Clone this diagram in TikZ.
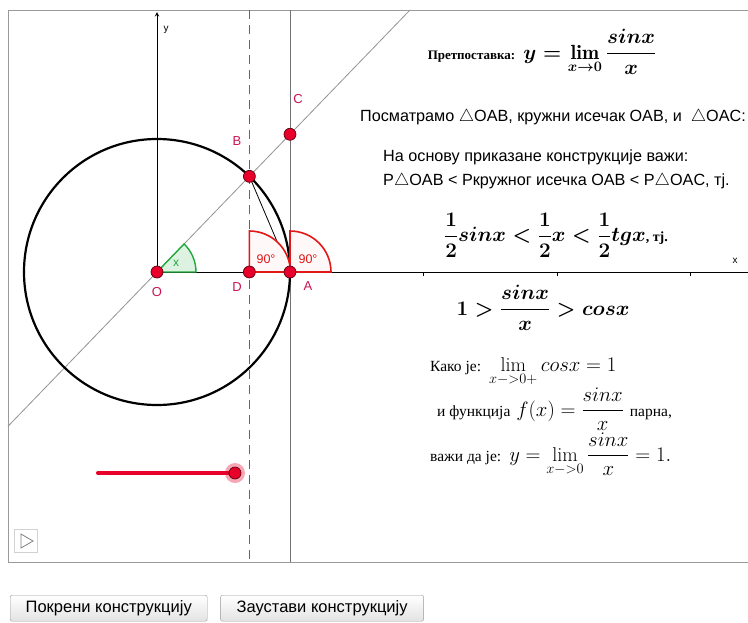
\documentclass[tikz,border=0pt]{standalone}
\usepackage{amsmath}
\usepackage{fontspec}
\newfontfamily\arialfont{Liberation Sans}
\newfontfamily\timesfont{Liberation Serif}
\usetikzlibrary{positioning,calc}
\definecolor{frame}{HTML}{9A9A9A}
\definecolor{ptred}{HTML}{E8002A}
\definecolor{ptedge}{HTML}{5A0010}
\definecolor{lblred}{HTML}{CC1450}
\definecolor{markred}{HTML}{E01818}
\definecolor{dashred}{RGB}{226,48,48}
\definecolor{angg}{HTML}{1FAA3A}

\begin{document}
\begin{tikzpicture}[x=1pt,y=-1pt,
    pt/.style={circle,draw=ptedge,fill=ptred,inner sep=0pt,minimum size=12pt,line width=0.7pt},
    ptlabel/.style={text=lblred,font=\arialfont\fontsize{13}{13}\selectfont,inner sep=0pt},
    rightmark/.style={draw=markred,line width=1.6pt,fill=markred!3},
    tracedash/.style={draw=dashred,line width=1.7pt},
    sanstext/.style={font=\arialfont\fontsize{16.2}{18}\selectfont,inner sep=0pt,anchor=west},
    mathtext/.style={font=\fontsize{19.5}{22}\selectfont,inner sep=0pt},
    plainmath/.style={font=\fontsize{20}{22}\selectfont,inner sep=0pt,anchor=base west},
    button/.style={draw=gray!80,rounded corners=2pt,top color=white,bottom color=gray!22,
      minimum width=197pt,minimum height=26pt,anchor=north west,inner sep=0pt,
      font=\arialfont\fontsize{16.5}{16.5}\selectfont}]
  \useasboundingbox[fill=white] (0,0) rectangle (748,622);
  % geometry
  \coordinate (O) at (157,272);
  \coordinate (A) at (290,272);
  \coordinate (B) at ($(O)+(46:133pt)$);
  \coordinate (D) at (B|-O);
  \coordinate (Atop) at (290,10);
  \coordinate (Abot) at (290,562);
  \coordinate (C) at (intersection of O--B and A--Atop);
  \coordinate (Ltop) at ($(O)!2.738!(B)$);
  \coordinate (Lbot) at ($(O)!-1.6125!(B)$);
  \coordinate (Dtop) at (B|-Atop);
  \coordinate (ytip) at (157,12);
  \coordinate (xend) at (748,272);
  % frame
  \draw[frame,line width=1pt] (748,10) -- (8,10) -- (8,562) -- (748,562);
  % lines
  \draw[gray!85,line width=0.8pt] (Lbot) -- (Ltop);
  \draw[gray!90!black,line width=0.8pt] (Atop) -- (Abot);
  \foreach \k in {0,...,36} \draw[tracedash] ($(Dtop)+(0,\k*15)$) -- ++(0,9);
  \draw[line width=1pt,-stealth] (O) -- (ytip);
  \draw[line width=1pt] (O) -- (xend);
  \foreach \k in {1,...,4} \draw[line width=0.8pt] ($(O)+(\k*133.3,0)$) -- ++(0,4);
  \node[font=\arialfont\fontsize{10}{10}\selectfont,inner sep=0pt] (ylab) at (166,30) {y};
  \node[font=\arialfont\fontsize{10}{10}\selectfont,inner sep=0pt] (xlab) at (735,261) {x};
  \draw[line width=2.2pt] (O) circle[radius=133pt];
  \draw[line width=0.8pt] (B) -- (A);
  % angles
  \draw[draw=angg,fill=angg!15,line width=1.4pt] (O) -- ++(0:39pt) arc[start angle=0,end angle=46,radius=39pt] -- cycle;
  \node[text=angg,font=\arialfont\fontsize{12}{12}\selectfont,inner sep=0pt] (xang) at (176,263) {x};
  \draw[rightmark] (D) -- ++(0:41pt) arc[start angle=0,end angle=90,radius=41pt] -- cycle;
  \draw[rightmark] (A) -- ++(0:41pt) arc[start angle=0,end angle=90,radius=41pt] -- cycle;
  \node[text=markred,font=\arialfont\fontsize{12.5}{12.5}\selectfont,inner sep=0pt] (rD) at (266,259) {90°};
  \node[text=markred,font=\arialfont\fontsize{12.5}{12.5}\selectfont,inner sep=0pt] (rA) at (308,259) {90°};
  % points
  \node[pt] (Opt) at (O) {};
  \node[pt] (Dpt) at (D) {};
  \node[pt] (Apt) at (A) {};
  \node[pt] (Bpt) at (B) {};
  \node[pt] (Cpt) at (C) {};
  \node[ptlabel] (Olab) at (157,292) {O};
  \node[ptlabel] (Dlab) at (237,287) {D};
  \node[ptlabel] (Alab) at (308,286) {A};
  \node[ptlabel] (Blab) at (237,141) {B};
  \node[ptlabel] (Clab) at (298,99) {C};
  % slider
  \coordinate (s0) at (98,473);
  \node[circle,fill=ptred!35,inner sep=0pt,minimum size=20pt] (halo) at (235,473) {};
  \draw[ptred,line width=4pt,line cap=round] (s0) -- (halo.center);
  \node[pt] (knob) at (halo) {};
  % play button
  \node[draw=gray!35,line width=1pt,minimum size=23pt,inner sep=0pt] (play) at (26,541) {};
  \draw[gray,line width=0.8pt] ($(play)+(-5,-7)$) -- ++(12,7) -- ++(-12,7) -- cycle;
  % texts
  \node[mathtext,font=\fontsize{20.5}{22}\selectfont] (hyp) at (542,52) {{\timesfont\bfseries\fontsize{13}{14}\selectfont Претпоставка:} {\boldmath$y=\lim\limits_{x\to0}\dfrac{sinx}{x}$}};
  \node[sanstext] (obs) at (360,117) {Посматрамо $\triangle$OAB, кружни исечак OAB, и \ $\triangle$OAC:};
  \node[sanstext] (basis1) at (383,157) {На основу приказане конструкције важи:};
  \node[sanstext] (basis2) at (383,181) {P$\triangle$OAB < Pкружног исечка OAB < P$\triangle$OAC, тј.};
  \node[mathtext] (ineq1) at (556,235) {{\boldmath$\dfrac{1}{2}sinx<\dfrac{1}{2}x<\dfrac{1}{2}tgx$}{\timesfont\bfseries\fontsize{14}{15}\selectfont, тј.}};
  \node[mathtext] (ineq2) at (543,308) {{\boldmath$1>\dfrac{sinx}{x}>cosx$}};
  \node[plainmath] (kako) at (430,371) {{\timesfont\fontsize{15.5}{17}\selectfont Како је:} $\lim\limits_{x{-}{>}0+}cosx=1$};
  \node[plainmath] (func) at (437,416) {{\timesfont\fontsize{15.5}{17}\selectfont и функција} $f(x)=\dfrac{sinx}{x}$ {\timesfont\fontsize{15.5}{17}\selectfont парна,}};
  \node[plainmath] (vazi) at (430,461) {{\timesfont\fontsize{15.5}{17}\selectfont важи да је:} $y=\lim\limits_{x{-}{>}0}\dfrac{sinx}{x}=1.$};
  % buttons
  \node[button] (start) at (10,595) {Покрени конструкцију};
  \node[button,minimum width=203pt,right=13pt of start.north east,anchor=north west] (stop) {Заустави конструкцију};
\end{tikzpicture}
\end{document}
